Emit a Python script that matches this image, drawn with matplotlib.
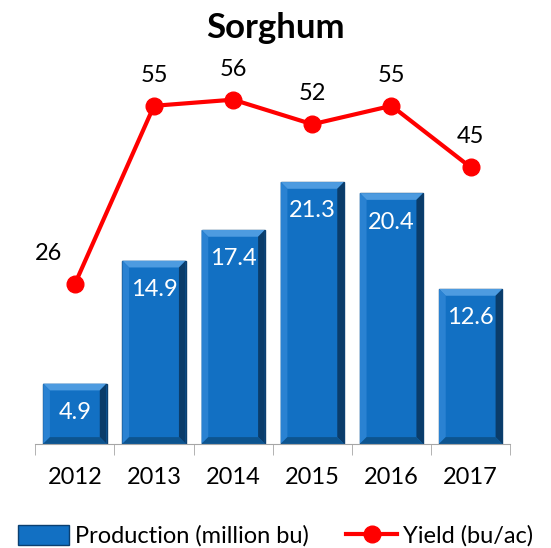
import numpy as np
import matplotlib.pyplot as plt
from matplotlib.lines import Line2D
from matplotlib.patches import Patch, Polygon

plt.rcParams['font.family'] = ['Lato', 'DejaVu Sans']

years = ['2012', '2013', '2014', '2015', '2016', '2017']
production = [4.9, 14.9, 17.4, 21.3, 20.4, 12.6]
yield_bu = [26, 55, 56, 52, 55, 45]

blue = '#1270c3'

fig = plt.figure(figsize=(5.51, 5.48), dpi=100)
ax = fig.add_axes([0.064, 0.19, 0.862, 0.673])
ax2 = ax.twinx()

x = np.arange(len(years))
width = 0.8
bars = ax.bar(x, production, width=width, color=blue, edgecolor='#0b3f70',
              linewidth=1.0, zorder=2)

# bevel look on the bars
bx, by = 0.085, 0.55
for b in bars:
    x0, x1 = b.get_x(), b.get_x() + b.get_width()
    h = b.get_height()
    faces = [
        ([(x0, h), (x1, h), (x1 - bx, h - by), (x0 + bx, h - by)], '#4d9be0'),
        ([(x0, 0), (x0, h), (x0 + bx, h - by), (x0 + bx, by)], '#2a82d2'),
        ([(x1, 0), (x1, h), (x1 - bx, h - by), (x1 - bx, by)], '#0a3c6a'),
        ([(x0, 0), (x1, 0), (x1 - bx, by), (x0 + bx, by)], '#0d548f'),
    ]
    for pts, c in faces:
        ax.add_patch(Polygon(pts, closed=True, facecolor=c, edgecolor='none', zorder=2.5))

for xi, v in zip(x, production):
    ax.text(xi, v - 1.5, f'{v}', ha='center', va='top', color='white', fontsize=17, zorder=4)

ax.set_ylim(0, 30)
ax.set_xlim(-0.5, len(years) - 0.5)
ax.set_yticks([])
for s in ['top', 'left', 'right']:
    ax.spines[s].set_visible(False)
ax.spines['bottom'].set_color('#a6a6a6')
ax.set_xticks(x)
ax.set_xticklabels(years, fontsize=17)
ax.tick_params(axis='x', which='major', length=0, pad=17)
ax.set_xticks(np.arange(-0.5, len(years)), minor=True)
ax.tick_params(axis='x', which='minor', length=8, color='#a6a6a6')

ax2.plot(x, yield_bu, color='#ff0000', linewidth=3, marker='o', markersize=12, zorder=3)
for i, (xi, v) in enumerate(zip(x, yield_bu)):
    dx = -19 if i == 0 else 0
    ax2.annotate(f'{v}', (xi, v), xytext=(dx, 14.5), textcoords='offset points',
                 ha='center', va='bottom', color='black', fontsize=17)
ax2.set_ylim(0, 60)
ax2.set_yticks([])
for s in ['top', 'left', 'right', 'bottom']:
    ax2.spines[s].set_visible(False)

fig.text(0.5, 0.948, 'Sorghum', ha='center', va='center', fontsize=25, fontweight='bold')

handles = [Patch(facecolor=blue, edgecolor='#0b3f70', label='Production (million bu)'),
           Line2D([0], [0], color='#ff0000', linewidth=3, marker='o', markersize=12,
                  label='Yield (bu/ac)')]
fig.legend(handles=handles, loc='center', bbox_to_anchor=(0.5, 0.022), ncol=2,
           frameon=False, fontsize=17, handlelength=2.15, columnspacing=1.6,
           handletextpad=0.25, handleheight=0.9)

fig.savefig('out.png', dpi=100)
